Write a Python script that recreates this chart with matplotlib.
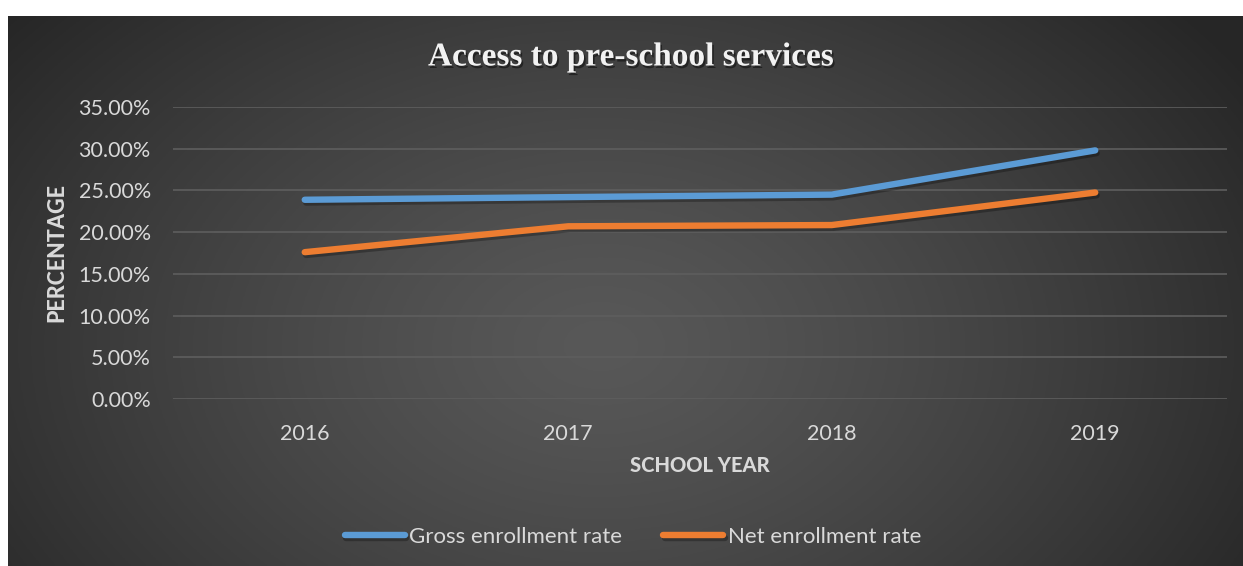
import matplotlib
matplotlib.use("Agg")
import matplotlib.pyplot as plt
import matplotlib.patheffects as pe
import numpy as np

# chart data
years = ["2016", "2017", "2018", "2019"]
gross_rate = [0.2388, 0.2420, 0.2450, 0.2980]
net_rate = [0.1760, 0.2070, 0.2085, 0.2475]
y_ticks = [0.0, 0.05, 0.10, 0.15, 0.20, 0.25, 0.30, 0.35]

W, H = 1243, 566
fig = plt.figure(figsize=(W / 100, H / 100), dpi=100, facecolor="white")

# dark radial gradient panel (Excel style)
bg = fig.add_axes([8 / W, 0, 1 - 8 / W, 1 - 16 / H])
bg.set_axis_off()
gx, gy = np.meshgrid(np.linspace(0, 1, 400), np.linspace(0, 1, 200))
r = np.sqrt(((gx - 0.48) / 0.62) ** 2 + ((gy - 0.60) / 0.95) ** 2)
r = np.clip(r, 0, 1)
shade = 0.345 - 0.195 * r ** 1.3
img = np.dstack([shade, shade, shade])
bg.imshow(img, extent=[0, 1, 0, 1], aspect="auto", origin="upper")
bg.set_xlim(0, 1)
bg.set_ylim(0, 1)

plt.rcParams["font.family"] = ["Lato", "DejaVu Sans"]
txt = "#d9d9d9"

ax = fig.add_axes([173 / W, (H - 399) / H, 1054 / W, 292 / H])
ax.set_facecolor("none")
x = np.arange(len(years))

shadow = [pe.SimpleLineShadow(offset=(1, -2), shadow_color="black", alpha=0.28),
          pe.Normal()]
ax.plot(x, gross_rate, color="#5B9BD5", lw=4.6, solid_capstyle="round",
        solid_joinstyle="round", label="Gross enrollment rate", path_effects=shadow, zorder=3)
ax.plot(x, net_rate, color="#ED7D31", lw=4.6, solid_capstyle="round",
        solid_joinstyle="round", label="Net enrollment rate", path_effects=shadow, zorder=3)

ax.set_xlim(-0.5, len(years) - 0.5)
ax.set_ylim(0, 0.35)
ax.set_yticks(y_ticks)
ax.set_yticklabels([f"{v * 100:.2f}%" for v in y_ticks])
ax.set_xticks(x)
ax.set_xticklabels(years)
ax.grid(axis="y", color="#5e5e5e", lw=1.2)
ax.set_axisbelow(True)
for s in ax.spines.values():
    s.set_visible(False)
ax.tick_params(length=0, labelsize=15.5, labelcolor=txt)
ax.tick_params(axis="y", pad=16)
ax.tick_params(axis="x", pad=18)

ax.set_xlabel("SCHOOL YEAR", fontsize=14.5, fontweight="black", color=txt, labelpad=9)
ax.set_ylabel("PERCENTAGE", fontsize=15.5, fontweight="black", color=txt, labelpad=8)

fig.text(631 / W, 1 - 57 / H, "Access to pre-school services", ha="center", va="center",
         fontsize=24, fontweight="bold", color="#f2f2f2", family="Liberation Serif",
         path_effects=[pe.withSimplePatchShadow(offset=(1.2, -1.8), shadow_rgbFace="black",
                                                alpha=0.45)])

leg = fig.legend(loc="center", bbox_to_anchor=(633 / W, 1 - 537 / H), ncol=2,
                 frameon=False, fontsize=16, handlelength=2.7, handletextpad=0.2,
                 columnspacing=1.85)
for t in leg.get_texts():
    t.set_color(txt)

fig.savefig("out.png", dpi=100, facecolor="white")
